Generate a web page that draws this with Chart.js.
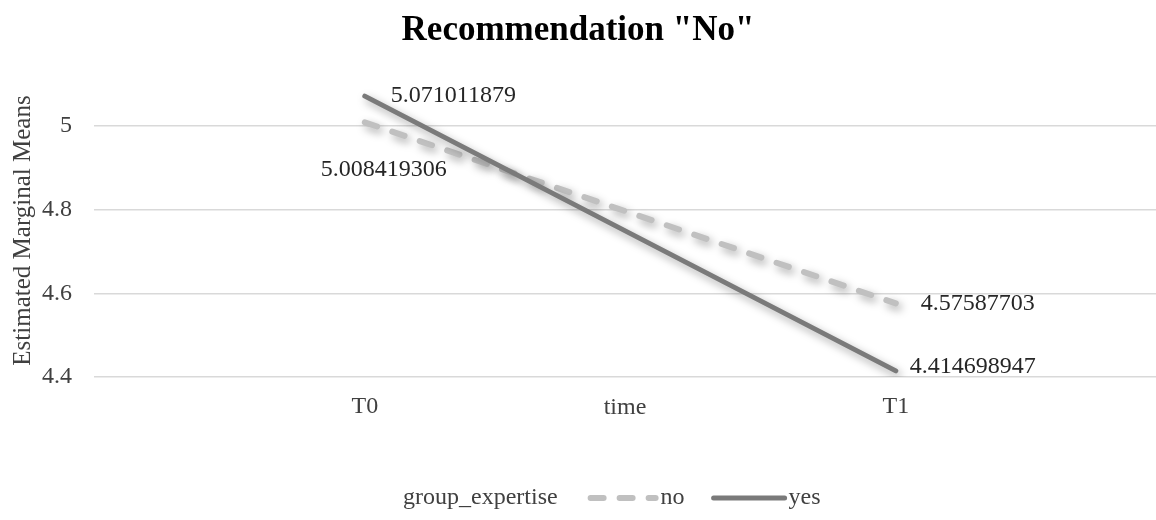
<!DOCTYPE html>
<html>
<head>
<meta charset="utf-8">
<script src="https://cdn.jsdelivr.net/npm/chart.js@4.4.1/dist/chart.umd.min.js"></script>
<style>
  html, body { margin: 0; padding: 0; background: #ffffff; }
  #wrap { width: 1156px; height: 520px; }
</style>
</head>
<body>
<div id="wrap"><canvas id="chart" width="1156" height="520"></canvas></div>
<script>
// Estimated marginal means by time point, split by group_expertise
const categories = ['T0', 'T1'];
const noValues = [5.008419306, 4.57587703];
const yesValues = [5.071011879, 4.414698947];
const yTickValues = [4.4, 4.6, 4.8, 5];

const SERIF = '"Liberation Serif", "Times New Roman", serif';
const TEXT = '#404040';

// Where each value label sits relative to its point
const valueLabels = [
  { series: 1, index: 0, align: 'left',   dx: 26, dy: 0 },
  { series: 0, index: 0, align: 'center', dx: 19, dy: 47 },
  { series: 0, index: 1, align: 'left',   dx: 25, dy: 0 },
  { series: 1, index: 1, align: 'left',   dx: 14, dy: -4 }
];

const toPoints = vals => vals.map((v, i) => ({ x: i, y: v }));

const shadowPlugin = {
  id: 'lineShadow',
  beforeDatasetDraw(chart) {
    const ctx = chart.ctx;
    ctx.save();
    ctx.shadowColor = 'rgba(0,0,0,0.35)';
    ctx.shadowBlur = 8;
    ctx.shadowOffsetX = 3;
    ctx.shadowOffsetY = 4;
  },
  afterDatasetDraw(chart) {
    chart.ctx.restore();
  }
};

const valueLabelPlugin = {
  id: 'valueLabels',
  afterDatasetsDraw(chart) {
    const ctx = chart.ctx;
    ctx.save();
    ctx.font = '24px ' + SERIF;
    ctx.fillStyle = '#262626';
    ctx.textBaseline = 'middle';
    valueLabels.forEach(l => {
      const pt = chart.getDatasetMeta(l.series).data[l.index];
      const v = chart.data.datasets[l.series].data[l.index].y;
      ctx.textAlign = l.align;
      ctx.fillText(String(v), pt.x + l.dx, pt.y + l.dy);
    });
    ctx.restore();
  }
};

const axisNamePlugin = {
  id: 'axisName',
  afterDraw(chart) {
    const ctx = chart.ctx;
    const area = chart.chartArea;
    ctx.save();
    ctx.font = '24px ' + SERIF;
    ctx.fillStyle = TEXT;
    ctx.textAlign = 'center';
    ctx.textBaseline = 'middle';
    ctx.fillText('time', (area.left + area.right) / 2, area.bottom + 31);
    ctx.restore();
  }
};

const legendPlugin = {
  id: 'bottomLegend',
  afterDraw(chart) {
    const ctx = chart.ctx;
    const y = chart.height - 22;
    let x = 403;
    ctx.save();
    ctx.font = '24px ' + SERIF;
    ctx.fillStyle = TEXT;
    ctx.textBaseline = 'middle';
    ctx.textAlign = 'left';
    ctx.fillText('group_expertise', x, y);
    x += ctx.measureText('group_expertise').width + 30;
    const items = [
      { ds: chart.data.datasets[0], len: 71, gap: 2 },
      { ds: chart.data.datasets[1], len: 77, gap: 1 }
    ];
    items.forEach(it => {
      ctx.save();
      ctx.strokeStyle = it.ds.borderColor;
      ctx.lineWidth = it.ds.borderWidth;
      ctx.lineCap = 'round';
      ctx.setLineDash(it.ds.borderDash || []);
      ctx.beginPath();
      ctx.moveTo(x + 3, y);
      ctx.lineTo(x + it.len - 3, y);
      ctx.stroke();
      ctx.restore();
      x += it.len + it.gap;
      ctx.fillText(it.ds.label, x, y);
      x += ctx.measureText(it.ds.label).width + 26;
    });
    ctx.restore();
  }
};

new Chart(document.getElementById('chart'), {
  type: 'line',
  data: {
    datasets: [
      {
        label: 'no',
        data: toPoints(noValues),
        borderColor: '#c0c0c0',
        borderWidth: 6,
        borderDash: [13, 16],
        borderCapStyle: 'round',
        pointRadius: 0,
        tension: 0,
        order: 1
      },
      {
        label: 'yes',
        data: toPoints(yesValues),
        borderColor: '#7a7a7a',
        borderWidth: 5,
        borderCapStyle: 'round',
        pointRadius: 0,
        tension: 0,
        order: 0
      }
    ]
  },
  options: {
    responsive: false,
    animation: false,
    layout: { padding: 0 },
    plugins: {
      legend: { display: false },
      tooltip: { enabled: false },
      title: {
        display: true,
        text: 'Recommendation "No"',
        color: '#000000',
        font: { family: SERIF, size: 35, weight: 'bold', lineHeight: 1.2 },
        padding: { top: 10, bottom: 32 }
      }
    },
    scales: {
      x: {
        type: 'linear',
        min: -0.51,
        max: 1.49,
        afterBuildTicks: s => { s.ticks = categories.map((c, i) => ({ value: i })); },
        afterFit: s => { s.height = 143; },
        grid: { display: false, drawTicks: false },
        border: { display: false },
        ticks: {
          callback: v => categories[v],
          color: TEXT,
          font: { family: SERIF, size: 24 },
          padding: 15,
          autoSkip: false,
          maxRotation: 0
        }
      },
      y: {
        min: 4.4,
        max: 5.1,
        afterBuildTicks: s => { s.ticks = yTickValues.map(v => ({ value: v })); },
        afterFit: s => { s.width = 94; },
        grid: { color: '#d9d9d9', lineWidth: 1.5, drawTicks: false },
        border: { display: false },
        ticks: {
          callback: v => String(v),
          color: TEXT,
          font: { family: SERIF, size: 24 },
          padding: 22
        },
        title: {
          display: true,
          text: 'Estimated Marginal Means',
          color: TEXT,
          font: { family: SERIF, size: 25 },
          padding: { top: 8, bottom: 0 }
        }
      }
    }
  },
  plugins: [shadowPlugin, valueLabelPlugin, axisNamePlugin, legendPlugin]
});
</script>
</body>
</html>
